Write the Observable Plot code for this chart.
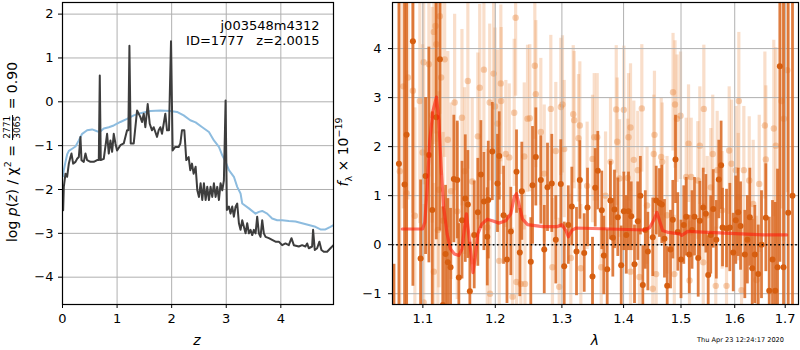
<!DOCTYPE html>
<html>
<head>
<meta charset="utf-8">
<script src="https://cdn.jsdelivr.net/npm/d3@7"></script>
<script src="https://cdn.jsdelivr.net/npm/@observablehq/plot@0.6"></script>
<style>
  html, body { margin: 0; padding: 0; background: white; }
  #wrap { position: relative; width: 800px; height: 350px; overflow: hidden; font-family: "DejaVu Sans", sans-serif; color: black; }
  #wrap svg { position: absolute; top: 0; }
  .lab { position: absolute; white-space: nowrap; font-size: 14px; line-height: 1; }
  .rot { transform: translate(-50%, -50%) rotate(-90deg); }
  .ctr { transform: translate(-50%, -50%); }
  .frac { display: inline-flex; flex-direction: column; vertical-align: middle; font-size: 9px; line-height: 1.05; text-align: center; margin: 0 1px; }
  .frac .num { border-bottom: 1px solid black; padding: 0 1px; }
  sup, sub { font-size: 9.5px; line-height: 0; }
  #date { position: absolute; left: 697px; top: 336px; font-size: 6.6px; white-space: nowrap; }
</style>
</head>
<body>
<div id="wrap"></div>
<script>
// ---------- Left panel: log p(z) ----------
const zTicks = [0, 1, 2, 3, 4];
const pzTicks = [-4, -3, -2, -1, 0, 1, 2];
const zPdf = [0.000,0.012,0.024,0.055,0.085,0.116,0.146,0.165,0.195,0.238,0.268,0.299,0.329,0.348,0.390,0.421,0.451,0.512,0.573,0.634,0.665,0.683,0.701,0.756,0.817,0.848,0.878,0.909,0.939,0.970,1.000,1.061,1.122,1.183,1.207,1.226,1.250,1.305,1.366,1.396,1.427,1.457,1.488,1.518,1.561,1.598,1.640,1.671,1.732,1.762,1.793,1.823,1.854,1.884,1.915,1.951,1.988,2.018,2.067,2.128,2.159,2.189,2.232,2.268,2.311,2.341,2.372,2.402,2.439,2.470,2.500,2.530,2.561,2.591,2.622,2.652,2.683,2.713,2.744,2.774,2.805,2.835,2.866,2.896,2.927,2.957,2.988,3.012,3.049,3.079,3.110,3.140,3.171,3.201,3.232,3.262,3.293,3.323,3.354,3.384,3.415,3.445,3.476,3.506,3.537,3.567,3.598,3.628,3.659,3.689,3.720,3.780,3.841,3.902,3.963,4.024,4.085,4.146,4.195,4.238,4.329,4.390,4.451,4.482,4.512,4.573,4.591,4.622,4.665,4.707,4.744,4.787,4.848,4.909,4.965];
const logPz = [-2.45,-2.47,-1.94,-1.64,-1.71,-1.41,-1.26,-1.18,-1.41,-1.37,-1.30,-1.26,-0.80,-1.33,-1.37,-1.18,-1.33,-1.37,-1.37,-1.33,-1.33,0.60,-1.33,-1.30,-0.73,-1.18,-0.88,-1.14,-0.73,-0.95,-1.11,-0.99,-0.95,-0.65,-0.65,1.28,-0.95,-0.95,-0.20,-0.27,-0.35,-0.46,-0.27,-0.58,-0.05,-0.50,-0.65,-0.58,-0.80,-0.65,-0.58,-0.73,-0.50,-0.27,-0.65,-0.65,1.38,-1.11,-1.03,-1.03,-0.95,-0.65,-0.65,-1.33,-1.26,-1.56,-1.41,-1.64,-1.48,-2.02,-2.17,-1.86,-2.24,-1.86,-2.24,-1.94,-2.24,-1.94,-2.17,-1.86,-2.17,-1.94,-2.24,-1.86,-2.02,-1.79,0.03,-2.47,-2.39,-2.55,-2.39,-2.62,-2.39,-2.32,-2.77,-2.92,-2.70,-2.85,-3.00,-2.77,-3.00,-2.92,-3.04,-2.92,-3.00,-2.62,-3.00,-3.08,-2.70,-3.00,-3.08,-3.11,-3.15,-3.19,-3.19,-3.27,-3.23,-3.27,-3.11,-3.27,-3.30,-3.27,-3.30,-3.23,-3.34,-3.30,-2.92,-3.38,-3.34,-3.19,-3.38,-3.42,-3.42,-3.34,-3.27];
const zPrior = [0.010,0.024,0.055,0.085,0.116,0.177,0.238,0.299,0.360,0.451,0.543,0.634,0.683,0.756,0.848,0.939,1.061,1.183,1.305,1.427,1.610,1.793,1.976,2.098,2.220,2.341,2.439,2.561,2.683,2.774,2.866,2.927,2.988,3.049,3.140,3.201,3.262,3.293,3.415,3.537,3.598,3.659,3.750,3.841,3.933,4.024,4.146,4.268,4.390,4.512,4.634,4.726,4.817,4.909,4.965];
const logPrior = [-1.70,-1.56,-1.37,-1.20,-1.12,-1.07,-1.02,-0.88,-0.73,-0.65,-0.63,-0.67,-0.69,-0.61,-0.58,-0.54,-0.46,-0.39,-0.31,-0.26,-0.21,-0.20,-0.21,-0.23,-0.31,-0.42,-0.47,-0.58,-0.69,-0.88,-1.03,-1.22,-1.37,-1.56,-1.71,-1.94,-2.09,-2.32,-2.43,-2.55,-2.51,-2.49,-2.55,-2.66,-2.70,-2.70,-2.72,-2.73,-2.77,-2.81,-2.85,-2.91,-2.91,-2.85,-2.81];

// ---------- Right panel: spectrum ----------
const lamTicks = [1.1, 1.2, 1.3, 1.4, 1.5, 1.6, 1.7];
const fluxTicks = [-1, 0, 1, 2, 3, 4];
const lamDark = [1.0625,1.0688,1.0761,1.0787,1.0869,1.0970,1.1036,1.1080,1.1125,1.1179,1.1227,1.1267,1.1304,1.1335,1.1372,1.1417,1.1464,1.1486,1.1530,1.1575,1.1611,1.1639,1.1700,1.1751,1.1794,1.1837,1.1885,1.1899,1.1957,1.2032,1.2057,1.2120,1.2170,1.2226,1.2310,1.2359,1.2389,1.2523,1.2549,1.2599,1.2675,1.2727,1.2777,1.2843,1.2905,1.2983,1.3036,1.3100,1.3156,1.3230,1.3283,1.3353,1.3406,1.3487,1.3531,1.3573,1.3638,1.3671,1.3727,1.3780,1.3820,1.3848,1.3903,1.3960,1.4004,1.4045,1.4083,1.4129,1.4185,1.4241,1.4285,1.4327,1.4370,1.4414,1.4500,1.4560,1.4617,1.4658,1.4705,1.4753,1.4812,1.4853,1.4901,1.4942,1.5000,1.5050,1.5094,1.5150,1.5200,1.5245,1.5313,1.5343,1.5406,1.5454,1.5498,1.5545,1.5592,1.5650,1.5697,1.5740,1.5767,1.5843,1.5906,1.5971,1.6020,1.6067,1.6112,1.6195,1.6245,1.6293,1.6340,1.6391,1.6458,1.6523,1.6609,1.6677,1.6743,1.6798,1.6844,1.6891,1.6966,1.7062,1.7150];
const fluxDark = [-2.00,1.65,1.23,2.24,4.15,-0.28,1.40,1.83,0.71,2.60,3.78,-1.23,-0.19,-0.36,-0.46,1.34,1.32,-0.67,0.50,0.94,0.82,-0.95,0.20,0.66,1.43,0.88,0.16,0.91,1.90,1.25,1.81,0.60,-0.30,0.27,1.49,-0.16,1.09,-0.35,1.21,1.79,1.32,-0.10,1.17,1.25,0.10,1.24,-0.44,0.40,0.78,-0.14,1.32,-0.17,0.76,-0.65,1.16,1.51,0.70,-0.22,-0.50,0.90,0.14,0.72,0.56,-0.42,0.68,0.20,0.68,0.58,-0.40,0.48,1.00,-0.82,0.30,-0.14,0.15,0.90,0.85,0.82,0.12,-0.84,-0.10,0.51,1.74,0.26,-0.30,0.40,0.57,-0.20,0.30,0.57,-0.27,0.49,0.76,0.63,-0.62,0.20,0.73,0.10,1.33,1.62,0.35,0.33,0.35,-0.16,0.50,0.66,0.38,-0.20,0.10,0.56,-0.48,-0.20,-0.60,0.00,0.55,-0.94,-0.30,-0.94,-0.46,3.64,-0.46,0.65,1.00];
const errDark = [1.6,6.0,5.0,5.0,5.0,1.6,1.6,2.2,2.0,2.5,3.5,2.0,1.4,1.3,1.2,1.3,1.2,1.1,1.2,1.3,1.1,1.0,1.1,1.1,1.1,1.0,1.0,1.2,1.0,1.0,0.9,1.0,0.9,0.9,0.85,0.9,1.0,0.9,1.2,1.0,0.9,0.9,0.9,1.0,0.9,0.9,0.9,0.8,0.8,0.9,0.8,0.8,0.8,0.8,0.8,0.8,0.8,0.8,0.8,0.8,0.8,0.8,0.8,0.8,0.8,0.8,0.8,0.7,0.8,0.8,0.8,0.8,0.8,0.8,0.8,0.7,0.7,0.8,0.8,0.8,0.8,0.8,0.9,0.8,0.8,0.8,0.8,0.8,0.8,0.8,0.8,0.8,0.8,0.8,0.8,0.8,0.8,0.8,0.8,0.9,0.8,0.8,0.9,0.8,0.9,0.9,0.9,0.9,0.9,1.0,1.0,1.0,1.0,1.1,1.1,1.5,1.2,1.8,2.0,4.0,5.5,5.0,6.0];
const lamLight = [1.0700,1.0744,1.0787,1.0804,1.0869,1.0895,1.0960,1.0996,1.1011,1.1011,1.1080,1.1125,1.1146,1.1146,1.1169,1.1179,1.1200,1.1213,1.1227,1.1244,1.1271,1.1292,1.1335,1.1380,1.1428,1.1464,1.1529,1.1565,1.1611,1.1672,1.1751,1.1778,1.1837,1.1885,1.1920,1.1925,1.1976,1.1996,1.2032,1.2057,1.2080,1.2085,1.2153,1.2203,1.2251,1.2276,1.2297,1.2310,1.2374,1.2425,1.2436,1.2474,1.2508,1.2584,1.2599,1.2675,1.2727,1.2828,1.2853,1.2905,1.2958,1.2983,1.3009,1.3036,1.3140,1.3178,1.3193,1.3262,1.3283,1.3299,1.3400,1.3487,1.3515,1.3563,1.3629,1.3700,1.3782,1.3877,1.3893,1.3932,1.4004,1.4071,1.4083,1.4117,1.4117,1.4173,1.4241,1.4270,1.4310,1.4400,1.4500,1.4517,1.4529,1.4559,1.4647,1.4665,1.4750,1.4857,1.4880,1.4892,1.4928,1.4991,1.5094,1.5136,1.5154,1.5185,1.5306,1.5343,1.5406,1.5417,1.5480,1.5547,1.5583,1.5640,1.5666,1.5760,1.5843,1.5894,1.5939,1.6021,1.6067,1.6079,1.6131,1.6176,1.6281,1.6359,1.6424,1.6478,1.6590,1.6609,1.6769,1.6810,1.6925,1.6972,1.7042];
const fluxLight = [1.50,3.23,1.05,3.41,3.14,0.59,2.93,1.88,3.72,-1.18,3.68,2.64,4.34,-0.55,4.46,4.09,0.30,1.12,4.66,3.41,0.49,3.78,2.14,1.09,2.90,0.68,2.59,1.50,3.34,1.29,2.21,3.20,3.57,0.35,2.90,-1.00,3.49,2.82,2.47,-0.33,3.29,2.93,1.85,1.78,-1.06,2.69,4.63,-0.76,-0.80,1.80,-0.80,2.57,2.58,3.65,3.07,2.30,1.45,2.77,-0.46,1.91,-0.86,2.81,2.86,1.95,-0.27,2.66,2.54,2.17,2.43,-0.48,1.20,1.75,2.19,2.19,-0.46,1.00,1.69,2.76,2.10,1.35,2.75,1.36,2.19,2.39,-0.55,1.73,1.52,-0.66,2.78,0.80,-0.90,1.85,2.24,-0.60,1.79,1.69,0.60,3.11,-0.60,2.86,2.57,2.63,1.38,2.06,-0.73,1.38,1.31,2.02,-0.36,2.77,0.60,1.17,1.85,-0.84,1.52,0.70,-0.84,1.92,1.65,1.52,0.97,2.93,-0.93,1.52,1.31,0.83,-0.72,1.24,2.43,1.74,2.37,2.02,2.93,2.57,3.56];
const errLight = [3.5,2.5,2.5,2.5,2.5,2.2,2.5,2.2,2.5,2.0,2.3,2.2,2.3,1.8,2.2,2.0,2.0,2.0,2.0,2.0,1.8,2.0,1.8,1.8,1.8,1.8,1.8,1.7,1.8,1.7,1.7,1.7,1.7,1.6,1.6,1.5,1.6,1.6,1.5,1.5,1.6,1.5,1.5,1.5,1.4,1.5,1.6,1.4,1.4,1.5,1.4,1.5,1.5,1.5,1.5,1.5,1.4,1.5,1.4,1.4,1.4,1.4,1.4,1.4,1.3,1.4,1.4,1.3,1.3,1.3,1.3,1.3,1.3,1.3,1.2,1.3,1.3,1.3,1.3,1.2,1.3,1.2,1.3,1.3,1.2,1.2,1.2,1.2,1.3,1.2,1.2,1.2,1.3,1.2,1.2,1.2,1.2,1.2,1.2,1.3,1.3,1.3,1.2,1.2,1.2,1.2,1.2,1.2,1.2,1.3,1.2,1.2,1.2,1.2,1.2,1.2,1.2,1.3,1.3,1.3,1.3,1.4,1.3,1.3,1.3,1.3,1.3,1.4,1.5,1.5,1.8,2.0,2.2,2.5,2.5];
const lamModel = [1.0731,1.0996,1.1026,1.1058,1.1092,1.1136,1.1181,1.1213,1.1244,1.1279,1.1325,1.1372,1.1425,1.1486,1.1529,1.1565,1.1591,1.1623,1.1655,1.1682,1.1714,1.1751,1.1807,1.1885,1.1957,1.2057,1.2153,1.2226,1.2276,1.2310,1.2350,1.2400,1.2474,1.2701,1.2932,1.2998,1.3062,1.3102,1.3156,1.3220,1.3487,1.4071,1.4360,1.4448,1.4524,1.4571,1.4619,1.4671,1.4772,1.4974,1.5014,1.5121,1.5306,1.5906,1.6559,1.7028];
const fluxModel = [0.32,0.32,0.46,1.17,2.13,2.74,3.01,2.54,1.58,0.76,0.22,-0.09,-0.19,-0.22,-0.09,0.35,0.63,0.22,-0.19,-0.57,-0.26,0.22,0.42,0.52,0.49,0.44,0.49,0.63,0.97,1.04,0.80,0.52,0.41,0.37,0.37,0.41,0.29,0.16,0.29,0.34,0.33,0.31,0.30,0.35,0.52,0.66,0.49,0.29,0.25,0.22,0.19,0.27,0.26,0.23,0.20,0.20];

const objName = "j003548m4312";
const objInfo = "ID=1777\u00a0\u00a0\u00a0z=2.0015";
const stamp = "Thu Apr 23 12:24:17 2020";

// ---------- build ----------
const pz = zPdf.map((z, i) => ({z, v: logPz[i]}));
const prior = zPrior.map((z, i) => ({z, v: logPrior[i]}));
const dark = lamDark.map((w, i) => ({w, f: fluxDark[i], e: errDark[i]}));
const light = lamLight.map((w, i) => ({w, f: fluxLight[i], e: errLight[i]}));
const model = lamModel.map((w, i) => ({w, f: fluxModel[i]}));

const intFmt = d => (d < 0 ? "\u2212" : "") + Math.abs(d);
const baseStyle = {fontFamily: "DejaVu Sans", fontSize: "13px", background: "transparent", color: "black", overflow: "visible"};
const gridColor = "#b0b0b0";

const left = Plot.plot({
  width: 345, height: 350,
  marginLeft: 62, marginRight: 12, marginTop: 2, marginBottom: 46,
  style: baseStyle,
  x: {domain: [0, 4.965]},
  y: {domain: [-4.623, 2.265]},
  marks: [
    Plot.gridX({ticks: zTicks, stroke: gridColor, strokeOpacity: 1, strokeWidth: 1}),
    Plot.gridY({ticks: pzTicks, stroke: gridColor, strokeOpacity: 1, strokeWidth: 1}),
    Plot.line(prior, {x: "z", y: "v", stroke: "#8dbcdf", strokeWidth: 2, clip: true}),
    Plot.line(pz, {x: "z", y: "v", stroke: "#3d3d3d", strokeWidth: 2, clip: true}),
    Plot.text([objName], {frameAnchor: "top-right", dx: -14, dy: 18, fontSize: 13, textAnchor: "end"}),
    Plot.text([objInfo], {frameAnchor: "top-right", dx: -14, dy: 33, fontSize: 13, textAnchor: "end"}),
    Plot.frame({stroke: "black", strokeWidth: 1.2}),
    Plot.axisX({ticks: zTicks, tickFormat: intFmt, tickSize: 4, tickPadding: 5, label: null, fontSize: 13}),
    Plot.axisY({ticks: pzTicks, tickFormat: intFmt, tickSize: 4, tickPadding: 5, label: null, fontSize: 13})
  ]
});
left.style.left = "0px";

const orange = "#d9661f";
const right = Plot.plot({
  width: 455, height: 350,
  marginLeft: 47, marginRight: 2, marginTop: 2, marginBottom: 46,
  style: baseStyle,
  x: {type: "log", domain: [1.0606, 1.7274]},
  y: {domain: [-1.22, 4.94]},
  marks: [
    Plot.ruleX(light, {x: "w", y1: d => d.f - d.e, y2: d => d.f + d.e, stroke: "#e8883f", strokeOpacity: 0.28, strokeWidth: 3.2, clip: true}),
    Plot.dot(light, {x: "w", y: "f", r: 3.2, fill: "#e8883f", fillOpacity: 0.4, stroke: "none", clip: true}),
    Plot.gridX({ticks: lamTicks, stroke: gridColor, strokeOpacity: 1, strokeWidth: 1}),
    Plot.gridY({ticks: fluxTicks, stroke: gridColor, strokeOpacity: 1, strokeWidth: 1}),
    Plot.ruleX(dark, {x: "w", y1: d => d.f - d.e, y2: d => d.f + d.e, stroke: orange, strokeOpacity: 0.85, strokeWidth: 2.8, clip: true}),
    Plot.dot(dark, {x: "w", y: "f", r: 3, fill: "#d65e10", stroke: "none", clip: true}),
    Plot.line(model, {x: "w", y: "f", stroke: "#ff1a0a", strokeOpacity: 0.6, strokeWidth: 3.2, clip: true}),
    Plot.ruleY([0], {stroke: "black", strokeWidth: 1.6, strokeDasharray: "1.6,2.6"}),
    Plot.frame({stroke: "black", strokeWidth: 1.2}),
    Plot.axisX({ticks: lamTicks, tickFormat: d => d.toFixed(1), tickSize: 4, tickPadding: 5, label: null, fontSize: 13}),
    Plot.axisY({ticks: fluxTicks, tickFormat: intFmt, tickSize: 4, tickPadding: 7, label: null, fontSize: 13})
  ]
});
right.style.left = "345px";

const wrap = document.getElementById("wrap");
wrap.appendChild(left);
wrap.appendChild(right);

function addLabel(html, cls, x, y) {
  const d = document.createElement("div");
  d.className = "lab " + cls;
  d.style.left = x + "px";
  d.style.top = y + "px";
  d.innerHTML = html;
  wrap.appendChild(d);
}
addLabel('log <i>p</i>(<i>z</i>) / χ<sup>2</sup> = <span class="frac"><span class="num">2771</span><span>3065</span></span> = 0.90', "rot", 13, 152);
addLabel('<i>f</i><sub>λ</sub> × 10<sup>−19</sup>', "rot", 343, 152);
addLabel('<i>z</i>', "ctr", 197, 340);
addLabel('<i>λ</i>', "ctr", 595, 340);
const dt = document.createElement("div");
dt.id = "date";
dt.textContent = stamp;
wrap.appendChild(dt);
</script>
</body>
</html>
